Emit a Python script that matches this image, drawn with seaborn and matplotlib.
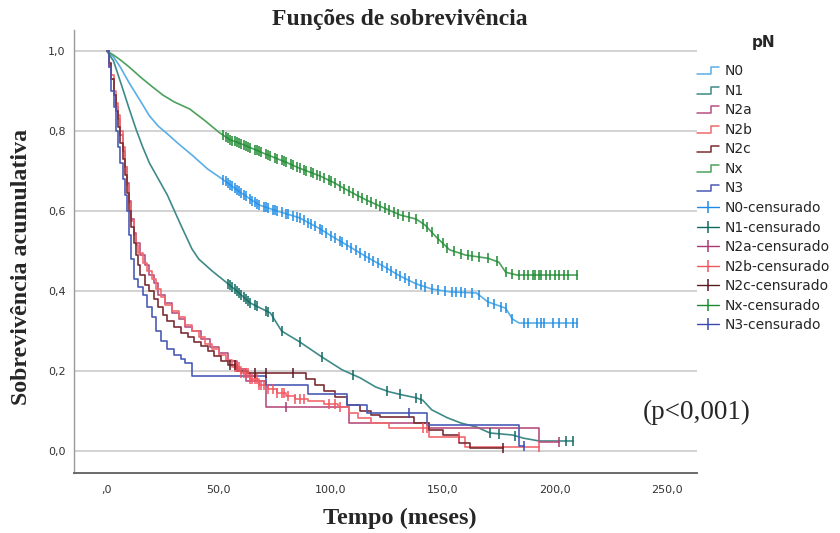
import numpy as np
import pandas as pd
import matplotlib
matplotlib.use("Agg")
import matplotlib.pyplot as plt
from matplotlib.lines import Line2D
from matplotlib.legend_handler import HandlerBase
import seaborn as sns

# ---- Kaplan-Meier estimates per pN group (time in months, cumulative survival) ----
n0_t = [0, 3, 6, 10, 15, 19, 23, 27, 32, 38, 45, 52, 60, 68, 76, 86, 95, 101, 108, 116,
        124, 131, 138, 145, 153, 165, 170, 178, 181, 184, 210]
n0_s = [1.0, 0.985, 0.96, 0.92, 0.875, 0.838, 0.812, 0.793, 0.768, 0.74, 0.705, 0.678, 0.645,
        0.615, 0.6, 0.583, 0.556, 0.535, 0.512, 0.485, 0.46, 0.437, 0.418, 0.405, 0.398, 0.395,
        0.373, 0.357, 0.33, 0.32, 0.32]

n1_t = [0, 3, 7, 10, 13, 16, 19, 23, 27, 31, 34, 38, 41, 47, 53, 58, 64, 73, 78, 86, 96, 105,
        113, 120, 126, 132, 138, 141, 145, 152, 158, 165, 171, 181, 186, 193, 208]
n1_s = [1.0, 0.975, 0.907, 0.855, 0.805, 0.76, 0.72, 0.68, 0.64, 0.59, 0.553, 0.505, 0.48,
        0.45, 0.423, 0.4, 0.37, 0.345, 0.3, 0.273, 0.235, 0.203, 0.183, 0.16, 0.148, 0.14,
        0.133, 0.127, 0.103, 0.083, 0.07, 0.06, 0.045, 0.04, 0.032, 0.025, 0.025]

n2a_t = [0, 1, 2, 3, 4, 5, 6, 7, 8, 9, 10, 11, 12, 13, 15, 17, 19, 21, 23, 26, 29, 32, 35,
         38, 42, 46, 50, 54, 58, 62, 71, 108, 144, 193, 202]
n2a_s = [1.0, 0.96, 0.93, 0.89, 0.86, 0.83, 0.79, 0.75, 0.71, 0.67, 0.625, 0.58, 0.545, 0.52,
         0.49, 0.465, 0.44, 0.42, 0.39, 0.37, 0.345, 0.33, 0.31, 0.3, 0.28, 0.26, 0.245, 0.225,
         0.205, 0.175, 0.11, 0.07, 0.057, 0.022, 0.022]

n2b_t = [0, 1, 2, 3, 4, 5, 6, 7, 8, 9, 10, 11, 12, 13, 14, 16, 18, 20, 22, 24, 26, 29, 32,
         35, 38, 41, 44, 47, 50, 53, 56, 60, 64, 68, 72, 76, 80, 84, 90, 97, 103, 108, 112,
         118, 126, 144, 160, 193]
n2b_s = [1.0, 0.97, 0.94, 0.9, 0.87, 0.84, 0.8, 0.76, 0.71, 0.665, 0.62, 0.575, 0.54, 0.515,
         0.495, 0.47, 0.45, 0.43, 0.405, 0.385, 0.365, 0.35, 0.335, 0.315, 0.3, 0.285, 0.268,
         0.255, 0.24, 0.228, 0.21, 0.195, 0.18, 0.165, 0.155, 0.145, 0.138, 0.13, 0.125, 0.118,
         0.11, 0.095, 0.083, 0.07, 0.058, 0.035, 0.01, 0.01]

n2c_t = [0, 1, 2, 3, 4, 5, 6, 7, 8, 9, 10, 11, 12, 13, 14, 15, 17, 19, 21, 23, 25, 27, 30,
         33, 36, 39, 42, 45, 48, 51, 54, 58, 63, 89, 93, 97, 102, 107, 113, 118, 122, 137,
         144, 150, 157, 162, 177]
n2c_s = [1.0, 0.97, 0.93, 0.89, 0.85, 0.81, 0.77, 0.73, 0.69, 0.645, 0.6, 0.56, 0.52, 0.49,
         0.465, 0.44, 0.415, 0.4, 0.38, 0.36, 0.34, 0.325, 0.31, 0.295, 0.285, 0.272, 0.262,
         0.25, 0.238, 0.226, 0.215, 0.2, 0.195, 0.18, 0.165, 0.15, 0.135, 0.115, 0.1, 0.09,
         0.085, 0.07, 0.053, 0.04, 0.02, 0.008, 0.008]

nx_t = [0, 3, 6, 10, 15, 20, 25, 30, 37, 44, 50, 55, 60, 71, 80, 86, 95, 101, 108, 116, 124,
        131, 138, 142, 147, 153, 160, 170, 175, 178, 183, 210]
nx_s = [1.0, 0.99, 0.978, 0.96, 0.935, 0.912, 0.89, 0.873, 0.855, 0.825, 0.797, 0.778, 0.768,
        0.742, 0.722, 0.707, 0.688, 0.672, 0.65, 0.627, 0.607, 0.59, 0.58, 0.565, 0.535, 0.503,
        0.49, 0.482, 0.472, 0.447, 0.44, 0.44]

n3_t = [0, 1, 2, 3, 4, 5, 6, 7, 8, 9, 10, 11, 12, 14, 16, 18, 20, 22, 24, 27, 30, 33, 35,
        38, 71, 90, 107, 116, 143, 184, 186]
n3_s = [1.0, 0.96, 0.9, 0.86, 0.8, 0.76, 0.72, 0.68, 0.64, 0.6, 0.54, 0.48, 0.43, 0.41, 0.39,
        0.36, 0.335, 0.3, 0.275, 0.255, 0.24, 0.23, 0.22, 0.188, 0.165, 0.142, 0.115, 0.095,
        0.065, 0.012, 0.012]

# ---- censoring times (months) ----
n0_cens = [52, 53, 54, 55, 56, 57, 58, 59, 60, 61, 62, 64, 65, 66, 67, 68, 70, 71, 72, 74, 75,
           76, 78, 80, 81, 83, 85, 86, 88, 90, 91, 93, 95, 96, 98, 100, 102, 104, 105, 107, 109,
           111, 113, 115, 117, 119, 121, 123, 125, 127, 129, 131, 133, 135, 138, 140, 142, 145,
           148, 151, 154, 156, 158, 160, 163, 166, 170, 173, 176, 178, 181, 186, 188, 192, 194,
           195, 199, 202, 205, 208, 210]
n1_cens = [54, 55, 56, 57, 58, 59, 60, 61, 62, 63, 64, 66, 67, 71, 72, 74, 78, 86, 96, 110,
           125, 131, 138, 140, 171, 175, 182, 205, 208]
n2a_cens = [80, 202]
n2b_cens = [57, 58, 59, 60, 61, 62, 63, 64, 65, 66, 67, 68, 69, 70, 72, 74, 76, 78, 79, 81,
            84, 86, 88, 99, 102, 104, 141, 143, 157, 193]
n2c_cens = [55, 57, 66, 71, 83, 177]
nx_cens = [52, 53, 54, 55, 56, 57, 58, 59, 60, 61, 62, 63, 64, 66, 67, 68, 69, 71, 72, 73, 75,
           76, 78, 79, 80, 82, 83, 85, 86, 88, 89, 91, 92, 94, 95, 97, 99, 100, 102, 104, 106,
           108, 110, 112, 114, 116, 118, 120, 122, 124, 126, 128, 130, 132, 135, 138, 141, 143,
           145, 148, 150, 152, 155, 158, 161, 163, 166, 170, 174, 178, 181, 184, 186, 188, 190,
           191, 193, 194, 196, 198, 200, 202, 204, 206, 210]
n3_cens = [135, 186]

groups = ["N0", "N1", "N2a", "N2b", "N2c", "Nx", "N3"]
line_colors = ["#5aaee6", "#3f8a88", "#b8507f", "#f06a6e", "#7a2e33", "#4da15c", "#4b5bb6"]
mark_colors = ["#1e8ce6", "#0f6a60", "#a83a70", "#f25560", "#5a1a22", "#1c8a30", "#3a4ab0"]
curves = {
    "N0": (n0_t, n0_s, n0_cens, "linear"),
    "N1": (n1_t, n1_s, n1_cens, "linear"),
    "N2a": (n2a_t, n2a_s, n2a_cens, "steps"),
    "N2b": (n2b_t, n2b_s, n2b_cens, "steps"),
    "N2c": (n2c_t, n2c_s, n2c_cens, "steps"),
    "Nx": (nx_t, nx_s, nx_cens, "linear"),
    "N3": (n3_t, n3_s, n3_cens, "steps"),
}
x_ticks = [0, 50, 100, 150, 200, 250]
x_labels = [",0", "50,0", "100,0", "150,0", "200,0", "250,0"]
y_ticks = [0.0, 0.2, 0.4, 0.6, 0.8, 1.0]
y_labels = ["0,0", "0,2", "0,4", "0,6", "0,8", "1,0"]

sns.set_style("white")
plt.rcParams["font.family"] = ["DejaVu Sans"]
serif = ["Liberation Serif", "DejaVu Serif"]

fig = plt.figure(figsize=(8.4, 5.33), dpi=100)
ax = fig.add_axes([0.088, 0.1126, 0.742, 0.831])

for yv in y_ticks:
    ax.axhline(yv, color="#d2d2d2", lw=1.4, zorder=0)


def surv_at(t, s, times, kind):
    t = np.asarray(t, float)
    s = np.asarray(s, float)
    times = np.asarray(times, float)
    if kind == "linear":
        return np.interp(times, t, s)
    idx = np.searchsorted(t, times, side="right") - 1
    return s[np.clip(idx, 0, len(s) - 1)]


for g, lc, mc in zip(groups, line_colors, mark_colors):
    t, s, cens, kind = curves[g]
    df = pd.DataFrame({"tempo": t, "sobrevivencia": s})
    sns.lineplot(data=df, x="tempo", y="sobrevivencia", ax=ax, color=lc, lw=1.2,
                 estimator=None, sort=False,
                 drawstyle="steps-post" if kind == "steps" else "default", zorder=3)
    cdf = pd.DataFrame({"tempo": cens, "sobrevivencia": surv_at(t, s, cens, kind)})
    sns.scatterplot(data=cdf, x="tempo", y="sobrevivencia", ax=ax, marker="|", s=55,
                    color=mc, linewidth=1.1, legend=False, zorder=4)

ax.set_xlim(-14.7, 263.5)
ax.set_ylim(-0.055, 1.0525)
ax.set_xticks(x_ticks)
ax.set_xticklabels(x_labels)
ax.set_yticks(y_ticks)
ax.set_yticklabels(y_labels)
ax.tick_params(axis="both", length=0, labelsize=8, colors="#333333")
ax.tick_params(axis="x", pad=9)
ax.tick_params(axis="y", pad=6)
ax.set_xlabel("")
ax.set_ylabel("")
for side in ["top", "right"]:
    ax.spines[side].set_visible(False)
ax.spines["left"].set_color("#9a9a9a")
ax.spines["left"].set_linewidth(1.0)
ax.spines["bottom"].set_color("#6a6a6a")
ax.spines["bottom"].set_linewidth(1.4)

fig.text(0.476, 0.964, "Funções de sobrevivência", ha="center", va="center",
         fontsize=17, fontweight="bold", family=serif)
fig.text(0.476, 0.028, "Tempo (meses)", ha="center", va="center",
         fontsize=17.5, fontweight="bold", family=serif)
fig.text(0.026, 0.499, "Sobrevivência acumulativa", ha="center", va="center",
         rotation=90, fontsize=17.2, fontweight="bold", family=serif)
ax.text(239, 0.097, "(p<0,001)", ha="left", va="center", fontsize=19.5,
        family=serif, clip_on=False)


class StepHandler(HandlerBase):
    def create_artists(self, legend, orig_handle, xdescent, ydescent, width, height,
                       fontsize, trans):
        xs = np.array([0, 0.6, 0.6, 1.0]) * width - xdescent
        ys = np.array([0.1, 0.1, 0.8, 0.8]) * height - ydescent
        ln = Line2D(xs, ys, color=orig_handle.get_color(), lw=1.1)
        ln.set_transform(trans)
        return [ln]


step_handles = [Line2D([], [], color=c) for c in line_colors]
cens_handles = [Line2D([], [], color=c, lw=1.0, marker="|", markersize=9, markeredgewidth=1.1)
                for c in mark_colors]
handles = step_handles + cens_handles
labels = groups + [g + "-censurado" for g in groups]
handler_map = {h: StepHandler() for h in step_handles}
leg = fig.legend(handles, labels, title="pN", loc="upper left",
                 bbox_to_anchor=(0.830, 0.934), frameon=False, fontsize=10,
                 handlelength=1.6, handletextpad=0.4, labelspacing=0.4,
                 borderaxespad=0, borderpad=0, numpoints=1, handler_map=handler_map)
leg.get_title().set_fontweight("bold")
leg.get_title().set_fontsize(11)
leg._legend_box.sep = 10

fig.savefig("out.png", dpi=100)
